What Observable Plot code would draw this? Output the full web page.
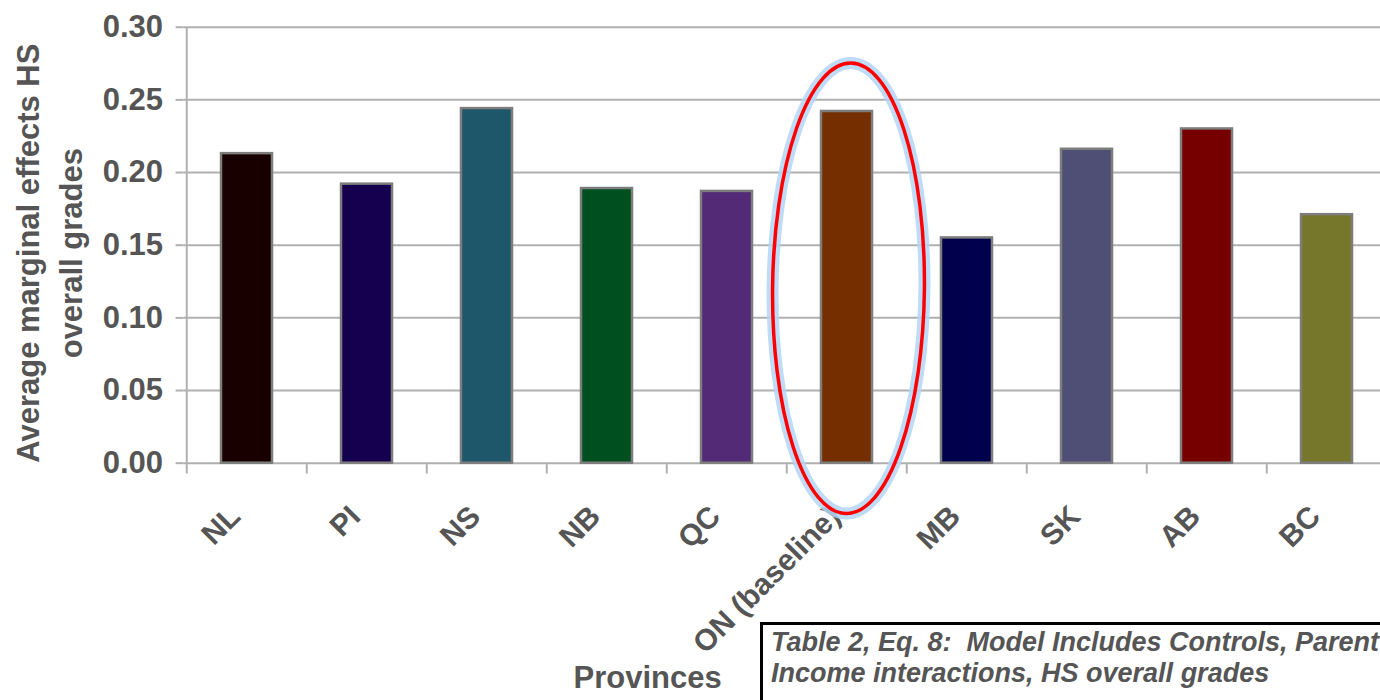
<!DOCTYPE html>
<html>
<head>
<meta charset="utf-8">
<script src="https://cdn.jsdelivr.net/npm/d3@7"></script>
<script src="https://cdn.jsdelivr.net/npm/@observablehq/plot@0.6"></script>
<style>
  html, body { margin: 0; padding: 0; background: #fff; overflow: hidden; }
  #wrap { position: relative; width: 1380px; height: 700px; overflow: hidden; }
  #wrap svg { max-width: none !important; display: block; }
  #note {
    position: absolute; left: 760px; top: 622px; width: 700px; height: 120px;
    border: 3px solid #000; box-sizing: border-box; background: #fff;
    font-family: "Liberation Sans", Arial, sans-serif; font-style: italic; font-weight: bold;
    font-size: 27px; line-height: 31px; color: #555; padding: 2px 0 0 8px; white-space: pre;
  }
</style>
</head>
<body>
<div id="wrap"><div id="chart"></div><div id="note"></div></div>
<script>
const provinces = ["NL", "PI", "NS", "NB", "QC", "ON (baseline)", "MB", "SK", "AB", "BC"];
const values = [0.213, 0.192, 0.244, 0.189, 0.187, 0.242, 0.155, 0.216, 0.230, 0.171];
const barColors = ["#190000", "#150050", "#1e566a", "#004f1e", "#522a75", "#752e00", "#00004d", "#4f4f75", "#760000", "#76772a"];
const yTicks = [0, 0.05, 0.10, 0.15, 0.20, 0.25, 0.30];
const yTitle = "Average marginal effects HS\noverall grades";
const xTitle = "Provinces";
const noteLines = ["Table 2, Eq. 8:  Model Includes Controls, Parent", "Income interactions, HS overall grades"];
const highlight = "ON (baseline)";

const data = provinces.map((p, i) => ({province: p, value: values[i], color: barColors[i]}));

const W = 1389, mL = 183.6, mR = 0.4;
const step = (W - mL - mR) / provinces.length;
const font = "'Liberation Sans', Arial, sans-serif";
const grid = "#b0b0b0";
const txt = "#555";

const plot = Plot.plot({
  width: W,
  height: 700,
  marginLeft: mL,
  marginRight: mR,
  marginTop: 26.7,
  marginBottom: 237.3,
  style: {fontFamily: font, background: "#fff", maxWidth: "none"},
  x: {type: "band", domain: provinces, paddingInner: 0.577, paddingOuter: 0.2885, axis: null},
  y: {domain: [0, 0.30], axis: null},
  marks: [
    Plot.gridY(yTicks, {stroke: grid, strokeOpacity: 1, strokeWidth: 2}),
    Plot.ruleX(provinces.slice(0, 1), {dx: -step / 2, y1: 0.30, y2: -0.0075, stroke: grid, strokeWidth: 2}),
    Plot.ruleX(provinces.slice(1), {dx: -step / 2, y1: 0, y2: -0.0075, stroke: grid, strokeWidth: 2}),
    Plot.axisY(yTicks, {tickSize: 8, tickPadding: 13, tickFormat: d3.format(".2f"), stroke: grid, strokeWidth: 2,
      fill: txt, fontSize: 31, fontWeight: "bold", label: null}),
    Plot.barY(data, {x: "province", y: "value", fill: "color", stroke: "#7d7d7d", strokeWidth: 2.5}),
    Plot.text(provinces, {x: d => d, frameAnchor: "bottom", rotate: -45, textAnchor: "end", lineAnchor: "top",
      dx: -20, dy: 40, fill: txt, fontSize: 30, fontWeight: "bold"}),
    Plot.text([yTitle], {frameAnchor: "left", rotate: -90, textAnchor: "middle", dx: -137, dy: 8, lineHeight: 1.38,
      fill: txt, fontSize: 31, fontWeight: "bold"}),
    Plot.text([xTitle], {frameAnchor: "bottom", dx: -139, dy: 225, fill: txt, fontSize: 31, fontWeight: "bold"})
  ]
});

document.getElementById("chart").appendChild(plot);

// highlight ellipse around the baseline bar, positioned through the plot's scales
const xs = plot.scale("x"), ys = plot.scale("y");
const cx = xs.apply(highlight) + xs.bandwidth / 2 + 2;
const cy = ys.apply(0.12);
const ry = ys.apply(0) - ys.apply(0.155);
const rx = step * 0.63;
const svg = d3.select(plot);
const g = svg.append("g").attr("transform", `rotate(0.6 ${cx} ${cy})`);
g.append("ellipse").attr("cx", cx).attr("cy", cy).attr("rx", rx).attr("ry", ry)
  .attr("fill", "none").attr("stroke", "#b3d5f7").attr("stroke-width", 12).attr("stroke-opacity", 0.85);
g.append("ellipse").attr("cx", cx).attr("cy", cy).attr("rx", rx).attr("ry", ry)
  .attr("fill", "none").attr("stroke", "#ff0000").attr("stroke-width", 3.5);

const note = document.getElementById("note");
noteLines.forEach(l => { const d = document.createElement("div"); d.textContent = l; note.appendChild(d); });
</script>
</body>
</html>
